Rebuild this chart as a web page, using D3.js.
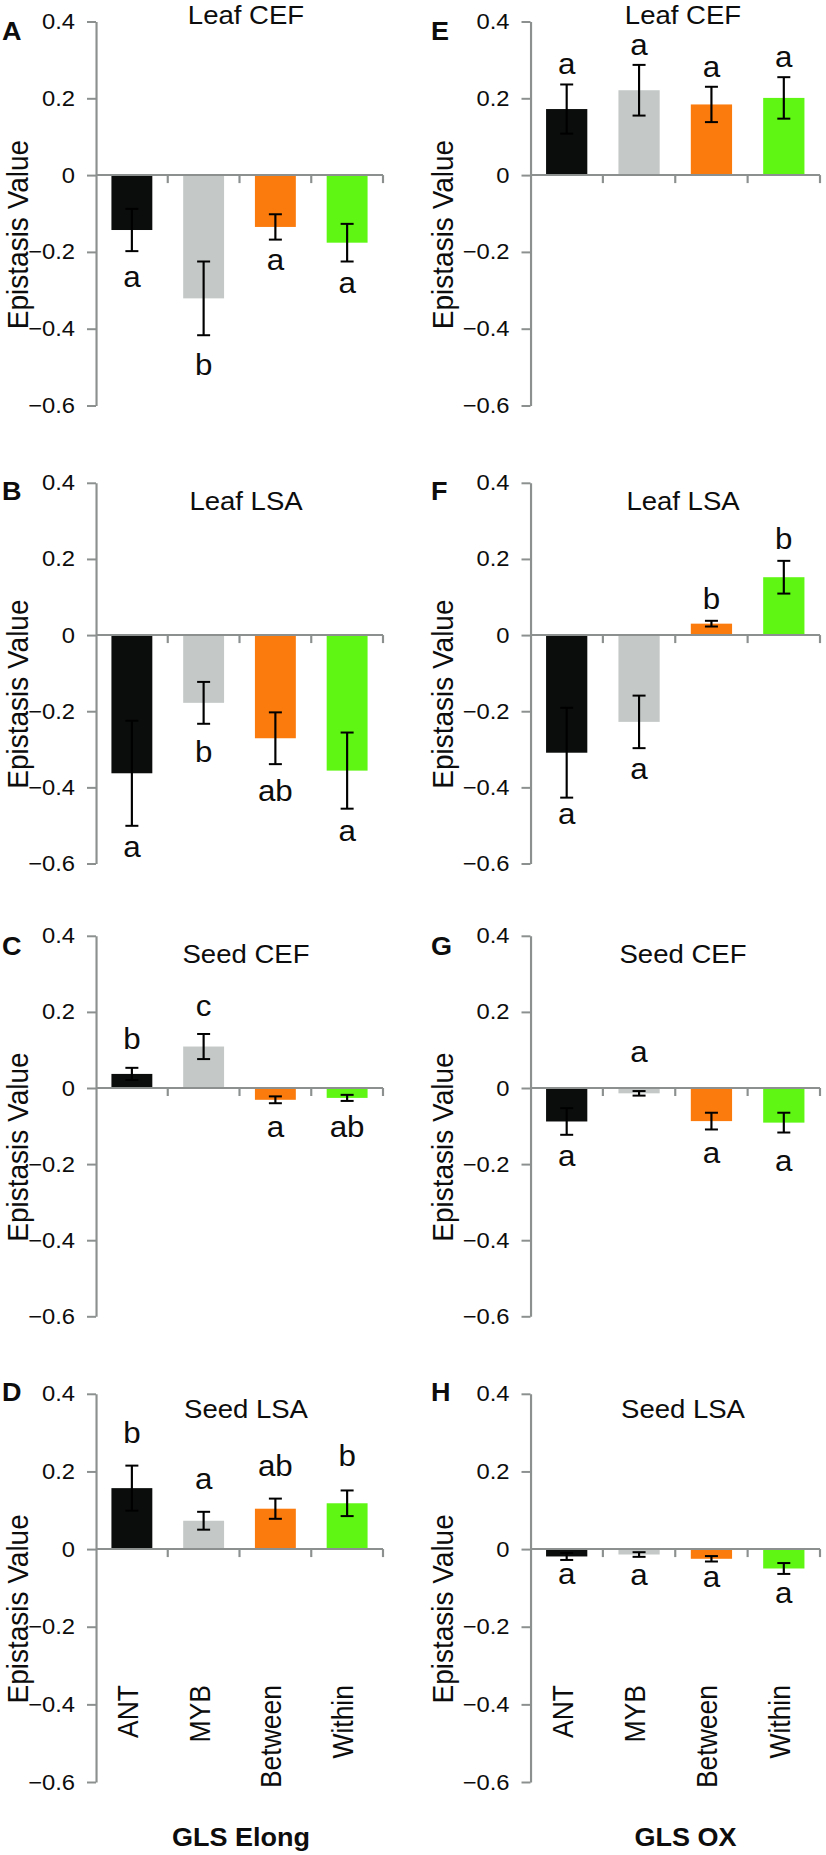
<!DOCTYPE html>
<html>
<head>
<meta charset="utf-8">
<script src="https://cdn.jsdelivr.net/npm/d3@7"></script>
<style>
  html, body { margin: 0; padding: 0; background: #ffffff; }
  svg { display: block; }
  text { font-family: "Liberation Sans", Arial, Helvetica, sans-serif; fill: #0d0d0d; }
</style>
</head>
<body>
<svg id="chart"></svg>
<script>
// ---------------- DATA ----------------
const categories = ["ANT", "MYB", "Between", "Within"];
const tickValues = [0.4, 0.2, 0, -0.2, -0.4, -0.6];
const groupLabels = ["GLS Elong", "GLS OX"];

// A: Leaf CEF, GLS Elong
const leafCEF_elong        = [-0.143, -0.321, -0.135, -0.176];
const leafCEF_elong_err    = [0.055, 0.096, 0.033, 0.049];
const leafCEF_elong_sig    = ["a", "b", "a", "a"];
const leafCEF_elong_sigAt  = [-0.292, -0.521, -0.247, -0.308];
// B: Leaf LSA, GLS Elong
const leafLSA_elong        = [-0.363, -0.178, -0.271, -0.356];
const leafLSA_elong_err    = [0.138, 0.055, 0.068, 0.100];
const leafLSA_elong_sig    = ["a", "b", "ab", "a"];
const leafLSA_elong_sigAt  = [-0.582, -0.333, -0.435, -0.540];
// C: Seed CEF, GLS Elong
const seedCEF_elong        = [0.037, 0.109, -0.031, -0.026];
const seedCEF_elong_err    = [0.016, 0.033, 0.009, 0.008];
const seedCEF_elong_sig    = ["b", "c", "a", "ab"];
const seedCEF_elong_sigAt  = [0.103, 0.188, -0.129, -0.129];
// D: Seed LSA, GLS Elong
const seedLSA_elong        = [0.157, 0.073, 0.104, 0.118];
const seedLSA_elong_err    = [0.058, 0.023, 0.026, 0.033];
const seedLSA_elong_sig    = ["b", "a", "ab", "b"];
const seedLSA_elong_sigAt  = [0.273, 0.155, 0.187, 0.213];
// E: Leaf CEF, GLS OX
const leafCEF_ox           = [0.172, 0.221, 0.184, 0.201];
const leafCEF_ox_err       = [0.064, 0.066, 0.046, 0.054];
const leafCEF_ox_sig       = ["a", "a", "a", "a"];
const leafCEF_ox_sigAt     = [0.263, 0.313, 0.256, 0.282];
// F: Leaf LSA, GLS OX
const leafLSA_ox           = [-0.309, -0.228, 0.030, 0.152];
const leafLSA_ox_err       = [0.118, 0.069, 0.0075, 0.043];
const leafLSA_ox_sig       = ["a", "a", "b", "b"];
const leafLSA_ox_sigAt     = [-0.497, -0.379, 0.068, 0.225];
// G: Seed CEF, GLS OX
const seedCEF_ox           = [-0.088, -0.014, -0.087, -0.091];
const seedCEF_ox_err       = [0.035, 0.006, 0.022, 0.026];
const seedCEF_ox_sig       = ["a", "a", "a", "a"];
const seedCEF_ox_sigAt     = [-0.206, 0.067, -0.196, -0.218];
// H: Seed LSA, GLS OX
const seedLSA_ox           = [-0.019, -0.014, -0.025, -0.050];
const seedLSA_ox_err       = [0.009, 0.006, 0.007, 0.014];
const seedLSA_ox_sig       = ["a", "a", "a", "a"];
const seedLSA_ox_sigAt     = [-0.089, -0.092, -0.097, -0.139];

// ---------------- LAYOUT / STYLE ----------------
const W = 826, H = 1855;
const SX = 1.08;                 // the figure is slightly stretched horizontally
const X = px => px / SX;
const colors = ["#0b0d0c", "#c4c9c7", "#fb7b0d", "#5ef612"];
const axisColor = "#8c9190";

const rows = [
  { top: 21.5,   bottom: 405.5,  title: 24,     letter: 40 },
  { top: 482.8,  bottom: 863.5,  title: 510,    letter: 500 },
  { top: 935.8,  bottom: 1316.3, title: 962.7,  letter: 955 },
  { top: 1393.8, bottom: 1782,   title: 1418.3, letter: 1401 }
];
const cols = [
  { left: 96,    right: 383, titleX: 246, letterX: 2,   ylabX: 28,  groupX: 241 },
  { left: 530.5, right: 820, titleX: 683, letterX: 431, ylabX: 453, groupX: 685.5 }
];

const panels = [
  { id: "A", title: "Leaf CEF", row: 0, col: 0, v: leafCEF_elong, e: leafCEF_elong_err, s: leafCEF_elong_sig, sAt: leafCEF_elong_sigAt },
  { id: "B", title: "Leaf LSA", row: 1, col: 0, v: leafLSA_elong, e: leafLSA_elong_err, s: leafLSA_elong_sig, sAt: leafLSA_elong_sigAt },
  { id: "C", title: "Seed CEF", row: 2, col: 0, v: seedCEF_elong, e: seedCEF_elong_err, s: seedCEF_elong_sig, sAt: seedCEF_elong_sigAt },
  { id: "D", title: "Seed LSA", row: 3, col: 0, v: seedLSA_elong, e: seedLSA_elong_err, s: seedLSA_elong_sig, sAt: seedLSA_elong_sigAt },
  { id: "E", title: "Leaf CEF", row: 0, col: 1, v: leafCEF_ox, e: leafCEF_ox_err, s: leafCEF_ox_sig, sAt: leafCEF_ox_sigAt },
  { id: "F", title: "Leaf LSA", row: 1, col: 1, v: leafLSA_ox, e: leafLSA_ox_err, s: leafLSA_ox_sig, sAt: leafLSA_ox_sigAt },
  { id: "G", title: "Seed CEF", row: 2, col: 1, v: seedCEF_ox, e: seedCEF_ox_err, s: seedCEF_ox_sig, sAt: seedCEF_ox_sigAt },
  { id: "H", title: "Seed LSA", row: 3, col: 1, v: seedLSA_ox, e: seedLSA_ox_err, s: seedLSA_ox_sig, sAt: seedLSA_ox_sigAt }
];

const svg = d3.select("#chart")
  .attr("width", W).attr("height", H)
  .attr("viewBox", `0 0 ${W / SX} ${H}`)
  .attr("preserveAspectRatio", "none");

svg.append("rect").attr("x", 0).attr("y", 0).attr("width", W / SX).attr("height", H).attr("fill", "#fff");

const fmt = d => d === 0 ? "0" : d3.format(".1f")(d).replace("-", "\u2212");

panels.forEach(p => {
  const r = rows[p.row], c = cols[p.col];
  const g = svg.append("g");

  const y = d3.scaleLinear().domain([-0.6, 0.4]).range([r.bottom, r.top]);
  const x = d3.scaleBand().domain(categories)
    .range([X(c.left), X(c.right)]).paddingInner(0.43).paddingOuter(0.215);
  const step = x.step();

  const data = categories.map((cat, i) => ({ cat, i, v: p.v[i], e: p.e[i], s: p.s[i], sAt: p.sAt[i] }));

  // bars
  g.selectAll("rect.bar").data(data).join("rect")
    .attr("class", "bar")
    .attr("x", d => x(d.cat))
    .attr("width", x.bandwidth())
    .attr("y", d => Math.min(y(d.v), y(0)))
    .attr("height", d => Math.abs(y(d.v) - y(0)))
    .attr("fill", d => colors[d.i]);

  // y axis
  const yAxis = d3.axisLeft(y).tickValues(tickValues).tickFormat(fmt)
    .tickSize(X(9)).tickSizeOuter(0).tickPadding(X(12));
  const ya = g.append("g").attr("transform", `translate(${X(c.left)},0)`).call(yAxis);
  ya.select(".domain").attr("stroke", axisColor).attr("stroke-width", 2);
  ya.selectAll(".tick line").attr("stroke", axisColor).attr("stroke-width", 2);
  ya.selectAll(".tick text").attr("font-size", 22).attr("fill", "#0d0d0d")
    .attr("font-family", "'Liberation Sans', Arial, Helvetica, sans-serif");

  // x axis (at zero) with boundary ticks
  const x0 = y(0);
  g.append("line").attr("x1", X(c.left)).attr("x2", X(c.right))
    .attr("y1", x0).attr("y2", x0).attr("stroke", axisColor).attr("stroke-width", 2);
  g.selectAll("line.xt").data(data).join("line").attr("class", "xt")
    .attr("x1", d => x(d.cat) + x.bandwidth() / 2 + step / 2)
    .attr("x2", d => x(d.cat) + x.bandwidth() / 2 + step / 2)
    .attr("y1", x0).attr("y2", x0 + 8)
    .attr("stroke", axisColor).attr("stroke-width", 2);

  // error bars
  const cx = d => x(d.cat) + x.bandwidth() / 2;
  const capHalf = X(6.5);
  const eb = g.selectAll("g.err").data(data).join("g").attr("class", "err")
    .attr("stroke", "#000").attr("stroke-width", 2);
  eb.append("line").attr("x1", cx).attr("x2", cx)
    .attr("y1", d => y(d.v - d.e)).attr("y2", d => y(d.v + d.e));
  eb.append("line").attr("x1", d => cx(d) - capHalf).attr("x2", d => cx(d) + capHalf)
    .attr("y1", d => y(d.v - d.e)).attr("y2", d => y(d.v - d.e));
  eb.append("line").attr("x1", d => cx(d) - capHalf).attr("x2", d => cx(d) + capHalf)
    .attr("y1", d => y(d.v + d.e)).attr("y2", d => y(d.v + d.e));

  // significance letters
  g.selectAll("text.sig").data(data).join("text").attr("class", "sig")
    .attr("x", cx).attr("y", d => y(d.sAt))
    .attr("text-anchor", "middle").attr("font-size", 29)
    .text(d => d.s);

  // title
  g.append("text").attr("x", X(c.titleX)).attr("y", r.title)
    .attr("text-anchor", "middle").attr("font-size", 25.5).text(p.title);

  // panel letter
  g.append("text").attr("x", X(c.letterX)).attr("y", r.letter)
    .attr("font-size", 25).attr("font-weight", "bold").text(p.id);

  // y axis label
  const ymid = (r.top + r.bottom) / 2 + 21;
  g.append("text").attr("transform", `translate(${X(c.ylabX)},${ymid}) rotate(-90)`)
    .attr("text-anchor", "middle").attr("font-size", 28).text("Epistasis Value");

  // category labels on bottom row
  if (p.row === 3) {
    g.selectAll("text.cat").data(data).join("text").attr("class", "cat")
      .attr("transform", d => `translate(${cx(d) + X(6)},1685) rotate(-90)`)
      .attr("text-anchor", "end").attr("font-size", 26.5)
      .text(d => d.cat);
    g.append("text").attr("x", X(c.groupX)).attr("y", 1846.5)
      .attr("text-anchor", "middle").attr("font-size", 25).attr("font-weight", "bold")
      .text(groupLabels[p.col]);
  }
});
</script>
</body>
</html>
